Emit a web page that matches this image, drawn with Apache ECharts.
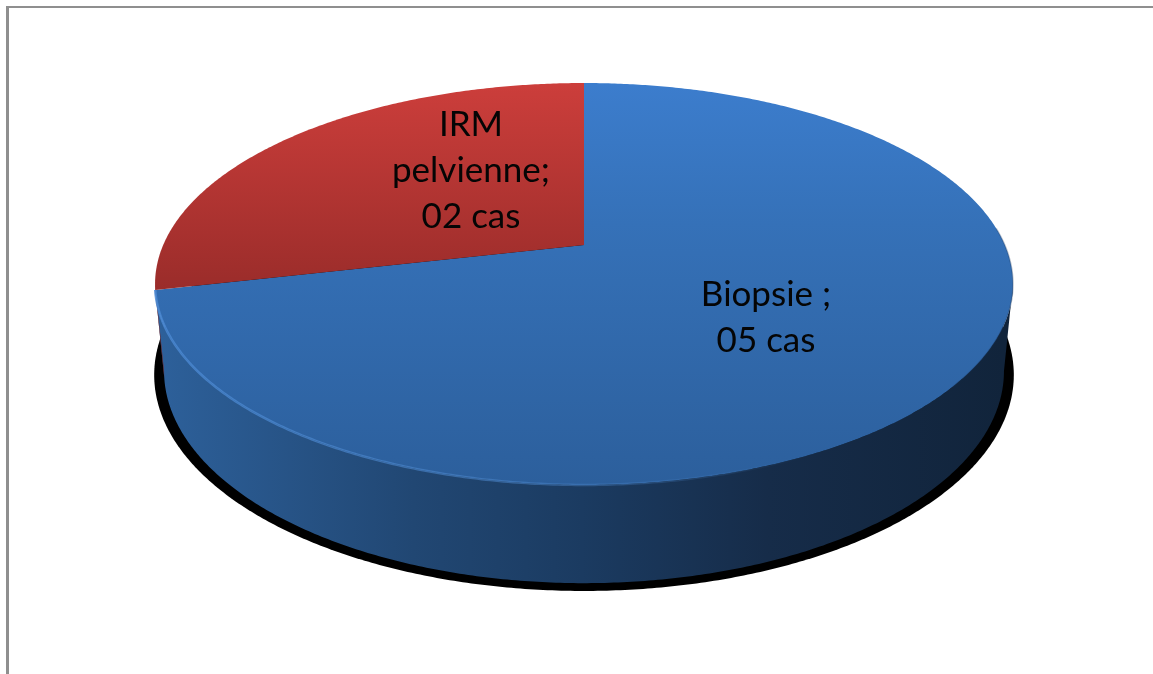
<!DOCTYPE html>
<html lang="fr">
<head>
<meta charset="utf-8">
<title>Biopsie et IRM pelvienne</title>
<script src="https://cdn.jsdelivr.net/npm/echarts@6/dist/echarts.min.js"></script>
<style>
  html, body { margin: 0; padding: 0; background: #fff; }
  #chart { width: 1153px; height: 674px; }
</style>
</head>
<body>
<div id="chart"></div>
<script>
// Examens réalisés (nombre de cas)
const categories = ['Biopsie', 'IRM pelvienne'];
const values = [5, 2];
const labelTexts = ['Biopsie ;\n05 cas', 'IRM\npelvienne;\n02 cas'];

const total = values.reduce((a, b) => a + b, 0);
const DEG = Math.PI / 180;

// Perspective projection of the disc: centre of the pie on screen, lens strength and radii
const view = { cx: 584, cy: 245, a: 420.8, b: 193.4, k: -0.194 };
const wallLayer = { sx: 0.979, sy: 1.055, dy: 85 };
const shadowLayer = { sx: 1.002, sy: 1.075, dy: 88 };
const topLayer = { sx: 1, sy: 1, dy: 0 };

// Angles are clockwise from twelve o'clock; the front wall is visible between these two
const wallFrom = 101.2;
const wallTo = 258.8;

function project(deg, r, layer) {
  const u = Math.sin(deg * DEG) * r;
  const v = -Math.cos(deg * DEG) * r;
  const w = 1 + view.k * v;
  return [
    view.cx + view.a * layer.sx * u / w,
    view.cy + layer.dy + view.b * layer.sy * v / w
  ];
}

function arc(from, to, layer) {
  const pts = [];
  const n = Math.max(2, Math.ceil(Math.abs(to - from) * 2));
  for (let i = 0; i <= n; i++) pts.push(project(from + (to - from) * i / n, 1, layer));
  return pts;
}

function sliceRange(index) {
  let before = 0;
  for (let i = 0; i < index; i++) before += values[i];
  return [before / total * 360, (before + values[index]) / total * 360];
}

const topFills = [
  { type: 'linear', x: 0, y: 83, x2: 0, y2: 485, global: true, colorStops: [
    { offset: 0, color: '#3c7dcd' },
    { offset: 0.35, color: '#3571b8' },
    { offset: 1, color: '#2c5f9c' }
  ] },
  { type: 'linear', x: 0, y: 83, x2: 0, y2: 291, global: true, colorStops: [
    { offset: 0, color: '#cc3e3b' },
    { offset: 1, color: '#9a2c2a' }
  ] }
];
const wallFills = [
  { type: 'linear', x: 160, y: 0, x2: 1004, y2: 0, global: true, colorStops: [
    { offset: 0, color: '#2d609a' },
    { offset: 0.3, color: '#214773' },
    { offset: 0.5, color: '#1b3b61' },
    { offset: 0.72, color: '#162c49' },
    { offset: 1, color: '#11243b' }
  ] },
  '#7a2220'
];
const rimStroke = { type: 'linear', x: 155, y: 0, x2: 800, y2: 0, global: true, colorStops: [
  { offset: 0, color: 'rgba(74,136,210,0.85)' },
  { offset: 0.55, color: 'rgba(74,132,200,0.55)' },
  { offset: 1, color: 'rgba(74,132,200,0)' }
] };
const edgeStroke = { type: 'linear', x: 850, y: 0, x2: 1013, y2: 0, global: true, colorStops: [
  { offset: 0, color: 'rgba(20,45,80,0)' },
  { offset: 1, color: 'rgba(20,45,80,0.3)' }
] };

const sliceData = categories.map((name, i) => ({ name, value: values[i] }));
const labelAnchors = [[766, 318], [471, 171]];

const option = {
  animation: false,
  backgroundColor: '#ffffff',
  graphic: [
    { type: 'line', silent: true, shape: { x1: 7.5, y1: 6, x2: 7.5, y2: 674 },
      style: { stroke: '#8f8f8f', lineWidth: 3 } },
    { type: 'line', silent: true, shape: { x1: 6, y1: 7, x2: 1153, y2: 7 },
      style: { stroke: '#8f8f8f', lineWidth: 2 } }
  ],
  series: [
    {
      // Ground shadow under the pie
      type: 'custom', coordinateSystem: 'none', silent: true, z: 1,
      data: [total],
      renderItem: () => ({
        type: 'polygon',
        shape: { points: arc(0, 360, shadowLayer) },
        style: { fill: '#000000' }
      })
    },
    {
      // Front wall of each slice
      type: 'custom', coordinateSystem: 'none', silent: true, z: 2,
      data: sliceData,
      renderItem: (params) => {
        const [start, end] = sliceRange(params.dataIndex);
        const from = Math.max(start, wallFrom);
        const to = Math.min(end, wallTo);
        if (to <= from) return null;
        const points = arc(from, to, topLayer).concat(arc(to, from, wallLayer));
        return { type: 'polygon', shape: { points }, style: { fill: wallFills[params.dataIndex] } };
      }
    },
    {
      // Top face of each slice, with the lit rim along the front
      type: 'custom', coordinateSystem: 'none', silent: true, z: 3,
      data: sliceData,
      renderItem: (params) => {
        const [start, end] = sliceRange(params.dataIndex);
        const points = [project(0, 0, topLayer)].concat(arc(start, end, topLayer));
        const children = [{
          type: 'polygon', shape: { points },
          style: { fill: topFills[params.dataIndex] }
        }];
        if (params.dataIndex === 0) {
          children.push({
            type: 'polyline', shape: { points: arc(Math.min(end, wallTo), 150, topLayer) },
            style: { fill: 'none', stroke: rimStroke, lineWidth: 2.5 }
          });
          children.push({
            type: 'polyline', shape: { points: arc(130, 85, topLayer) },
            style: { fill: 'none', stroke: edgeStroke, lineWidth: 1.5 }
          });
        }
        return { type: 'group', children };
      }
    },
    {
      // Slice captions
      type: 'custom', coordinateSystem: 'none', silent: true, z: 4,
      data: sliceData,
      renderItem: (params) => ({
        type: 'text',
        x: labelAnchors[params.dataIndex][0],
        y: labelAnchors[params.dataIndex][1],
        style: {
          text: labelTexts[params.dataIndex],
          fill: '#050505',
          font: '35px Lato, "Open Sans", sans-serif',
          lineHeight: 46,
          align: 'center',
          verticalAlign: 'middle'
        }
      })
    }
  ]
};

const chart = echarts.init(document.getElementById('chart'), null, { renderer: 'canvas' });
chart.setOption(option);
</script>
</body>
</html>
